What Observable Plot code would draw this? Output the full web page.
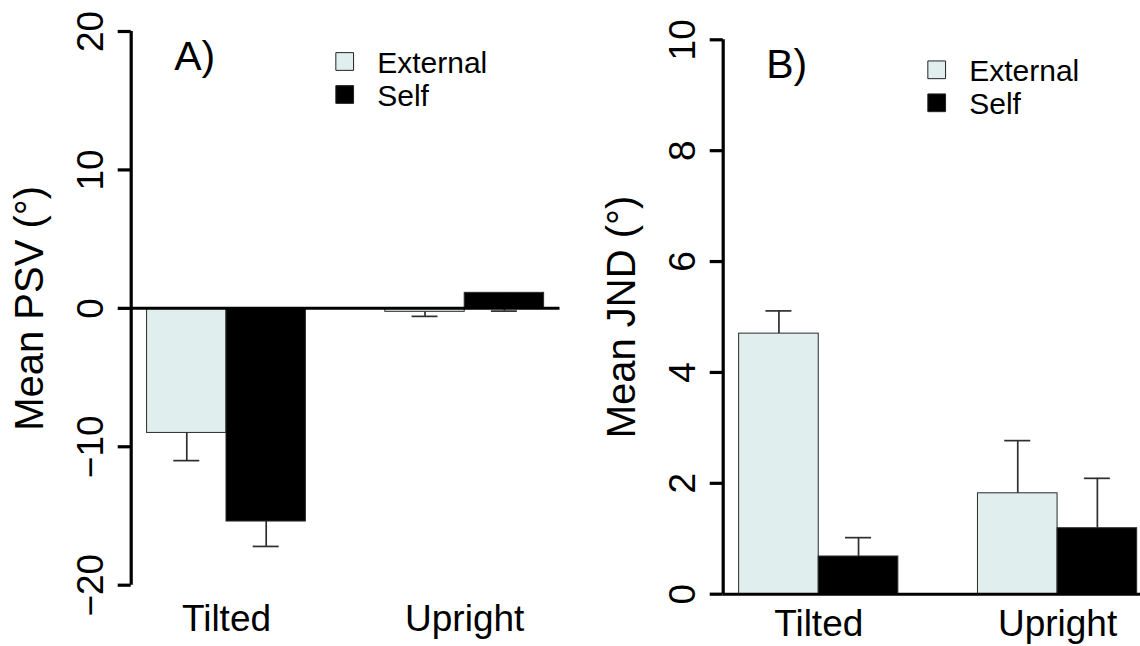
<!DOCTYPE html>
<html><head><meta charset="utf-8">
<script src="https://cdn.jsdelivr.net/npm/d3@7"></script>
<script src="https://cdn.jsdelivr.net/npm/@observablehq/plot@0.6"></script>
<style>
html,body{margin:0;padding:0;background:#fff;overflow:hidden;}
#wrap{display:flex;width:1140px;height:646px;}
#wrap svg{overflow:hidden;display:block;}
</style></head><body><div id="wrap"></div>
<script>
// ---- data ----
const groups = ["Tilted", "Upright"];
const series = ["External", "Self"];
// Panel A: mean PSV (deg) and end of error bar
const psvExternal = [-9.0, -0.25];
const psvSelf = [-15.4, 1.12];
const psvExternalErr = [-11.0, -0.58];
const psvSelfErr = [-17.2, -0.2];
const psvTicks = [-20, -10, 0, 10, 20];
// Panel B: mean JND (deg) and end of error bar
const jndExternal = [4.70, 1.82];
const jndSelf = [0.68, 1.19];
const jndExternalErr = [5.11, 2.77];
const jndSelfErr = [1.02, 2.09];
const jndTicks = [0, 2, 4, 6, 8, 10];

// ---- styling ----
const FONT = "'Liberation Sans', Arial, Helvetica, sans-serif";
const fills = ["#E0EEEE", "#000000"];
const ink = "#000";
const errInk = "#2e2e2e";

function rowsFor(means, errs) {
  const rows = [];
  groups.forEach((g, gi) => {
    series.forEach((s, si) => {
      const x1 = 1 + gi * (series.length + 1) + si; // R barplot beside, space c(0,1)
      rows.push({group: g, series: s, x1, x2: x1 + 1, center: x1 + 0.5,
                 mean: means[si][gi], err: errs[si][gi]});
    });
  });
  return rows;
}
const nSlots = groups.length * (series.length + 1);
const xLo = 1, xHi = nSlots;
const xDomain = [xLo - 0.04 * (xHi - xLo), xHi + 0.04 * (xHi - xLo)];
const groupRows = groups.map((g, gi) => ({group: g, center: 1 + gi * (series.length + 1) + series.length / 2}));
const fmt = d => d < 0 ? "\u2212" + Math.abs(d) : String(d);

function panel({rows, ticks, yDomain, label, letter, margins, catDy}) {
  return Plot.plot({
    width: 570, height: 646,
    ...margins,
    style: {fontFamily: FONT, background: "white", overflow: "hidden"},
    x: {domain: xDomain, axis: null},
    y: {domain: yDomain, axis: null},
    color: {domain: series, range: fills},
    marks: [
      // error bars (drawn first, bars cover the inner part)
      Plot.ruleX(rows, {x: "center", y1: "mean", y2: "err", stroke: errInk, strokeWidth: 1.7}),
      Plot.ruleY(rows, {y: "err", x1: "center", x2: "center", insetLeft: -13, insetRight: -13, stroke: errInk, strokeWidth: 1.7}),
      // bars
      Plot.rect(rows, {x1: "x1", x2: "x2", y1: 0, y2: "mean", fill: "series", stroke: "#2a2a2a", strokeWidth: 1}),
      // zero line
      Plot.ruleY([0], {stroke: ink, strokeWidth: 3}),
      // y axis line + ticks
      Plot.ruleX([xDomain[0]], {stroke: ink, strokeWidth: 3.2}),
      Plot.ruleY(ticks, {y: d => d, x1: xDomain[0], x2: xDomain[0], insetLeft: -13, stroke: ink, strokeWidth: 3.2}),
      Plot.text(ticks, {x: xDomain[0], y: d => d, text: fmt, rotate: -90, dx: -28, lineAnchor: "bottom", textAnchor: "middle", fontSize: 37, fill: ink}),
      // y label
      Plot.text([label], {frameAnchor: "left", rotate: -90, dx: -88, lineAnchor: "bottom", textAnchor: "middle", fontSize: 40, fill: ink}),
      // x category labels
      Plot.text(groupRows, {x: "center", y: yDomain[0], text: "group", dy: catDy, lineAnchor: "bottom", textAnchor: "middle", fontSize: 37, fill: ink}),
      // panel letter
      Plot.text([letter], {frameAnchor: "top-left", dx: 43, dy: 38.3, lineAnchor: "bottom", textAnchor: "start", fontSize: 41, fill: ink}),
      // legend
      ...series.map((s, i) => Plot.dot([s], {frameAnchor: "top-left", dx: 213.5, dy: 30 + i * 33, symbol: "square", r: 10, fill: fills[i], stroke: "#222", strokeWidth: 1})),
      ...series.map((s, i) => Plot.text([s], {frameAnchor: "top-left", dx: 246, dy: 41 + i * 33, lineAnchor: "bottom", textAnchor: "start", fontSize: 30, fill: ink}))
    ]
  });
}

const wrap = document.getElementById("wrap");
wrap.appendChild(panel({
  rows: rowsFor([psvExternal, psvSelf], [psvExternalErr, psvSelfErr]),
  ticks: psvTicks, yDomain: [-20, 20], label: "Mean PSV (\u00B0)", letter: "A)",
  margins: {marginLeft: 130.7, marginRight: 10.5, marginTop: 31, marginBottom: 61.3},
  catDy: 46
}));
wrap.appendChild(panel({
  rows: rowsFor([jndExternal, jndSelf], [jndExternalErr, jndSelfErr]),
  ticks: jndTicks, yDomain: [0, 10], label: "Mean JND (\u00B0)", letter: "B)",
  margins: {marginLeft: 152.7, marginRight: -12.6, marginTop: 39.3, marginBottom: 52.3},
  catDy: 42
}));
</script></body></html>
